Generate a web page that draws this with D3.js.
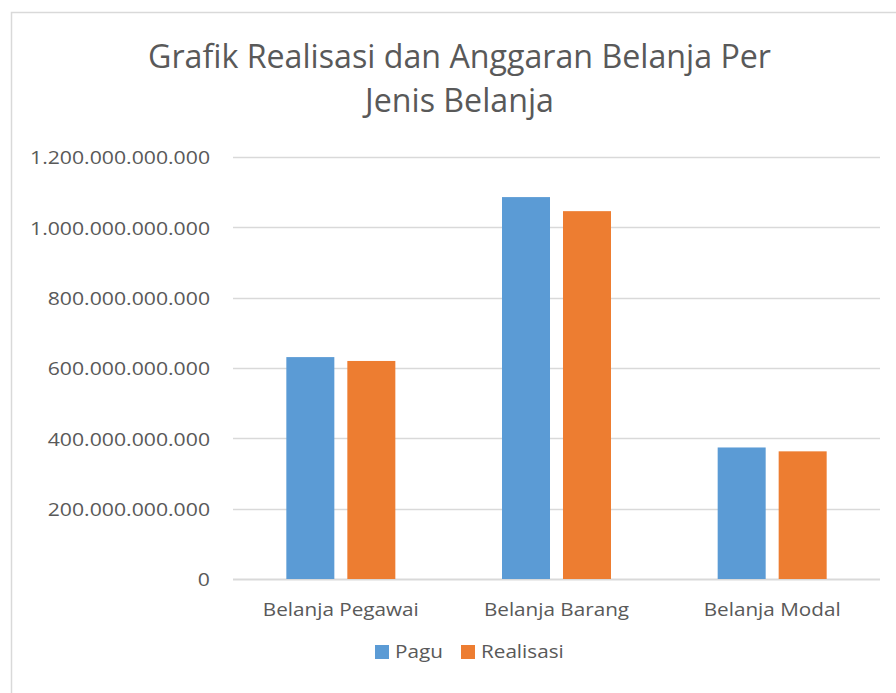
<!DOCTYPE html>
<html>
<head>
<meta charset="utf-8">
<script src="https://cdn.jsdelivr.net/npm/d3@7"></script>
<style>
  body { margin: 0; background: #fff; }
  text { font-family: "Open Sans", "Noto Sans", sans-serif; fill: #595959; }
</style>
</head>
<body>
<div id="visualization"></div>
<script>
// data
let categories = ['Belanja Pegawai', 'Belanja Barang', 'Belanja Modal']
let seriesNames = ['Pagu', 'Realisasi']
let pagu = [631e9, 1086e9, 374e9]
let realisasi = [620e9, 1046e9, 363e9]
let yTicks = [0, 200e9, 400e9, 600e9, 800e9, 1000e9, 1200e9]
let titleLines = ['Grafik Realisasi dan Anggaran Belanja Per', 'Jenis Belanja']

let colors = ['#5B9BD5', '#ED7D31']

let width = 896
let height = 693
let plot = { left: 233, right: 880, top: 157, bottom: 579 }

let svg = d3.select('#visualization')
  .append('svg')
    .attr('width', width)
    .attr('height', height)

// chart frame
svg.append('rect')
  .attr('x', 11.5).attr('y', 12.5)
  .attr('width', 920).attr('height', 720)
  .attr('fill', '#fff')
  .attr('stroke', '#D9D9D9')
  .attr('stroke-width', 1.5)

// squeeze text horizontally (Calibri is narrower than the fonts we have)
let squeeze = (sel, ratio) => {
  sel.each(function () {
    let w = this.getComputedTextLength()
    d3.select(this)
      .attr('textLength', w * ratio)
      .attr('lengthAdjust', 'spacingAndGlyphs')
  })
}

let fmt = (v) => d3.format(',.0f')(v).replace(/,/g, '.')

let x0 = d3.scaleBand()
  .domain(categories)
  .range([plot.left, plot.right])

let x1 = d3.scaleBand()
  .domain(seriesNames)
  .range([0, 109])
  .paddingInner(0.213)

let y = d3.scaleLinear()
  .domain([0, 1200e9])
  .range([plot.bottom, plot.top])

// gridlines
svg.append('g')
  .selectAll('line')
  .data(yTicks)
  .enter()
  .append('line')
    .attr('x1', plot.left).attr('x2', plot.right)
    .attr('y1', (d) => Math.round(y(d)) + 0.5)
    .attr('y2', (d) => Math.round(y(d)) + 0.5)
    .attr('stroke', '#D9D9D9')
    .attr('stroke-width', (d) => d === 0 ? 2 : 1.3)

// y axis labels
let yAxis = d3.axisLeft(y).tickValues(yTicks).tickFormat(fmt).tickSize(0).tickPadding(23)
let yg = svg.append('g')
  .attr('transform', 'translate(' + plot.left + ',0)')
  .call(yAxis)
yg.select('.domain').remove()
yg.selectAll('text')
  .attr('font-size', 19)
  .attr('fill', '#595959')
  .attr('dy', '0.36em')
  .style('font-family', null)
let yRatio = 1
yg.selectAll('text').each(function (d) {
  if (d === 1200e9) yRatio = 180 / this.getComputedTextLength()
})
squeeze(yg.selectAll('text'), yRatio)

// bars
let data = categories.map((c, i) => ({ cat: c, values: [pagu[i], realisasi[i]] }))
let groups = svg.append('g')
  .selectAll('g')
  .data(data)
  .enter()
  .append('g')
    .attr('transform', (d) => 'translate(' + (x0(d.cat) + x0.bandwidth() / 2 - 54.5) + ',0)')

groups.selectAll('rect')
  .data((d) => d.values.map((v, j) => ({ name: seriesNames[j], value: v, j: j })))
  .enter()
  .append('rect')
    .attr('x', (d) => x1(d.name))
    .attr('width', x1.bandwidth())
    .attr('y', (d) => y(d.value))
    .attr('height', (d) => y(0) - y(d.value))
    .attr('fill', (d) => colors[d.j])

// category labels
let xAxis = d3.axisBottom(x0).tickSize(0).tickPadding(0)
let xg = svg.append('g')
  .attr('transform', 'translate(0,' + plot.bottom + ')')
  .call(xAxis)
xg.select('.domain').remove()
xg.selectAll('text')
  .attr('font-size', 19)
  .attr('fill', '#595959')
  .attr('y', 37)
  .attr('dy', 0)
  .style('font-family', null)
let catRatio = 1
xg.selectAll('text').each(function (d) {
  if (d === 'Belanja Pegawai') catRatio = 156 / this.getComputedTextLength()
})
squeeze(xg.selectAll('text'), catRatio)

// title
let title = svg.append('g')
let t1 = title.append('text')
  .attr('x', 459.5).attr('y', 68)
  .attr('text-anchor', 'middle')
  .attr('font-size', 32)
  .text(titleLines[0])
let titleRatio = 623 / t1.node().getComputedTextLength()
let t2 = title.append('text')
  .attr('x', 459.5).attr('y', 112)
  .attr('text-anchor', 'middle')
  .attr('font-size', 32)
  .text(titleLines[1])
squeeze(title.selectAll('text'), titleRatio)

// legend
let legendX = [375, 461]
let legend = svg.append('g')
  .selectAll('g')
  .data(seriesNames)
  .enter()
  .append('g')
    .attr('transform', (d, i) => 'translate(' + legendX[i] + ',645)')
legend.append('rect')
  .attr('width', 14).attr('height', 14)
  .attr('fill', (d, i) => colors[i])
let legendText = legend.append('text')
  .attr('x', 20).attr('y', 13)
  .attr('font-size', 19)
  .text((d) => d)
squeeze(legendText, catRatio)
</script>
</body>
</html>
